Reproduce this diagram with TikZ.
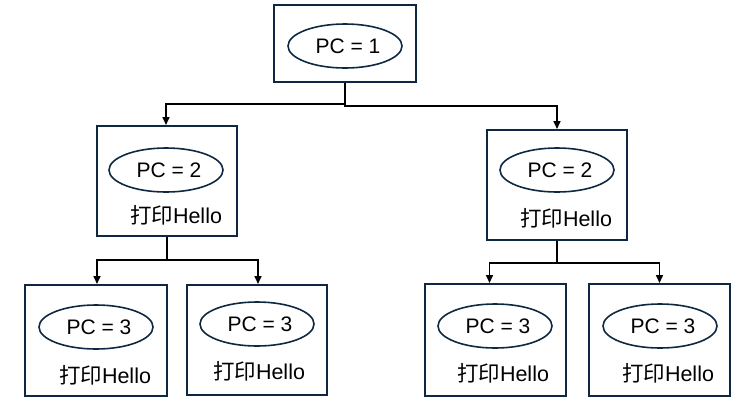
\documentclass[tikz,border=0pt]{standalone}
\usepackage{fontspec}
\setmainfont{Liberation Sans}
\newfontfamily\cjk{Noto Sans CJK SC}
\usetikzlibrary{arrows.meta,shapes.geometric}
\definecolor{navy}{HTML}{0E2841}
\begin{document}
\begin{tikzpicture}[x=1pt,y=-1pt,
  box/.style={draw=navy, line width=2pt, minimum width=140pt, minimum height=110pt, inner sep=0pt},
  oval/.style={ellipse, draw=navy, line width=1.6pt, minimum width=114pt, minimum height=44pt, inner sep=0pt},
  pc/.style={inner sep=0pt, font=\fontsize{21}{24}\selectfont},
  lbl/.style={inner sep=0pt, font=\fontsize{21.5}{24}\selectfont},
  conn/.style={draw=black, line width=1.6pt, -{Triangle[length=8pt,width=7pt]}}]
\useasboundingbox (0,0) rectangle (748,413);
% boxes
\node[box, minimum width=142pt, minimum height=77pt] (top) at (345,43.5) {};
\node[box] (L) at (167,181) {};
\node[box] (R) at (557,185) {};
\node[box, minimum width=142pt, minimum height=111pt] (LL) at (96,340.5) {};
\node[box] (LR) at (257,340) {};
\node[box, minimum width=141pt, minimum height=112pt] (RL) at (495.5,340) {};
\node[box, minimum width=141pt, minimum height=112pt] (RR) at (659.5,340) {};
% ovals
\node[oval] (e0) at (345,46) {};
\node[oval] (e1) at (166,170) {};
\node[oval] (e2) at (557,170) {};
\node[oval] (e3) at (96,327) {};
\node[oval] (e4) at (257,324) {};
\node[oval] (e5) at (495,326) {};
\node[oval] (e6) at (660,326) {};
\node[pc] (p0) at ([xshift=3pt]e0.center) {PC = 1};
\node[pc] (p1) at ([xshift=3pt]e1.center) {PC = 2};
\node[pc] (p2) at ([xshift=3pt]e2.center) {PC = 2};
\node[pc] (p3) at ([xshift=3pt]e3.center) {PC = 3};
\node[pc] (p4) at ([xshift=3pt]e4.center) {PC = 3};
\node[pc] (p5) at ([xshift=3pt]e5.center) {PC = 3};
\node[pc] (p6) at ([xshift=3pt]e6.center) {PC = 3};
% labels
\node[lbl] (t1) at (176,215) {{\cjk 打印}Hello};
\node[lbl] (t2) at (566,218) {{\cjk 打印}Hello};
\node[lbl] (t3) at (105,375) {{\cjk 打印}Hello};
\node[lbl] (t4) at (259,371) {{\cjk 打印}Hello};
\node[lbl] (t5) at (503,373) {{\cjk 打印}Hello};
\node[lbl] (t6) at (668,373) {{\cjk 打印}Hello};
% connectors
\draw[conn] (top.south) -- ++(0,21) -| ([xshift=-1pt]L.north);
\draw[conn] (top.south) -- ++(0,23) -| (R.north);
\draw[conn] (L.south) -- ++(0,23) -| ([xshift=1pt]LL.north);
\draw[conn] (L.south) -- ++(0,23) -| ([xshift=1pt]LR.north);
\draw[conn] (R.south) -- ++(0,22) -| ([xshift=-6pt]RL.north);
\draw[conn] (R.south) -- ++(0,22) -| (RR.north);
\end{tikzpicture}
\end{document}
